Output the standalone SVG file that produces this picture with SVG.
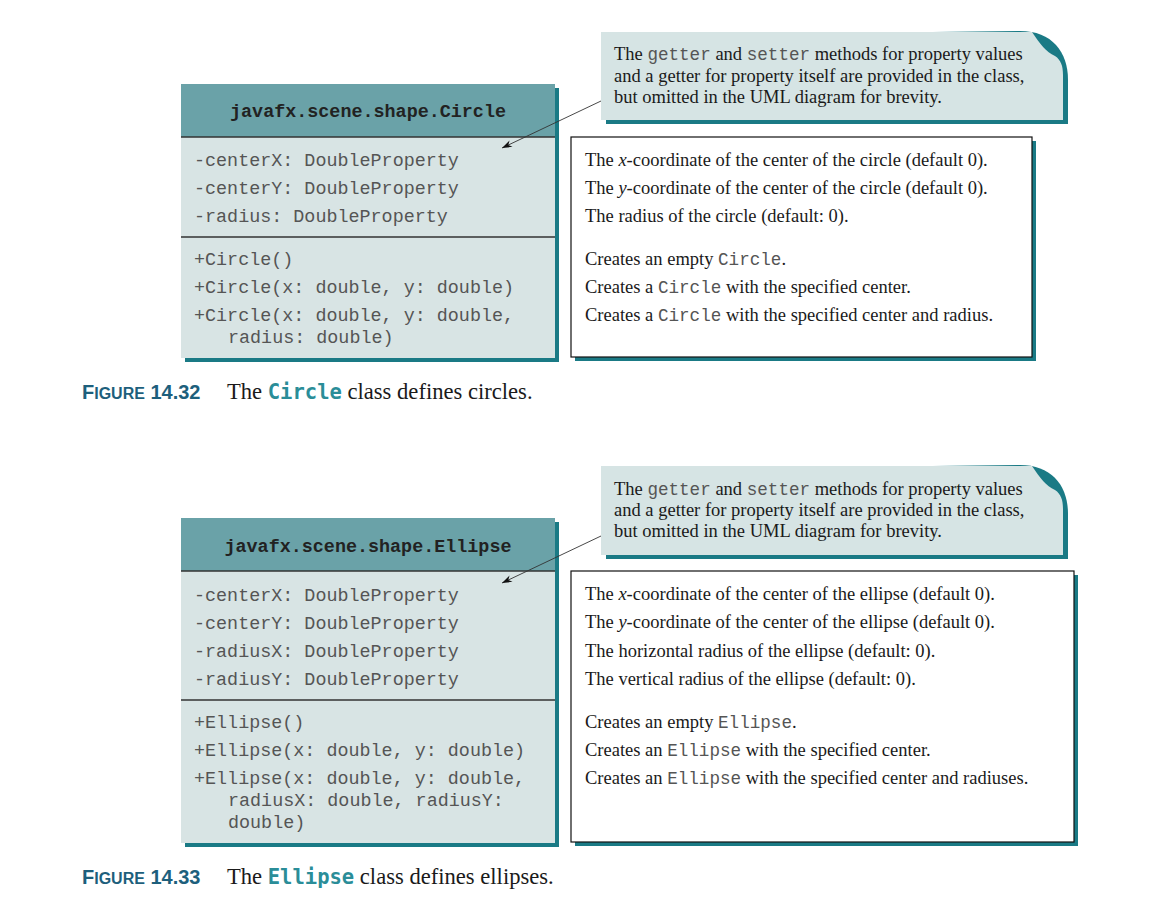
<svg xmlns="http://www.w3.org/2000/svg" width="1172" height="918" viewBox="0 0 1172 918">
<style>
.shadow{fill:#1a7a85}
.hdr{fill:#6aa2a8}
.body{fill:#d8e4e4}
.sep{stroke:#333;stroke-width:1.3}
.mono{font-family:"Liberation Mono","Courier New",monospace;font-size:18.4px;fill:#555}
.monob{font-family:"Liberation Mono","Courier New",monospace;font-size:18.4px;font-weight:bold;fill:#222}
.serif{font-family:"Liberation Serif","Times New Roman",serif;font-size:18.5px;fill:#1a1a1a}
.cm{font-family:"Liberation Mono","Courier New",monospace;font-size:17.6px;fill:#555}
.note{fill:#d6e4e4}
.desc{fill:#fff;stroke:#111;stroke-width:1.2}
.figlbl{font-family:"Liberation Sans",Arial,sans-serif;font-weight:bold;fill:#1d5f7c}
.cap{font-family:"Liberation Serif","Times New Roman",serif;font-size:22.6px;fill:#1a1a1a}
.capm{font-family:"DejaVu Sans Mono","Liberation Mono",monospace;font-size:20.5px;font-weight:bold;fill:#2a8d98}
.conn{stroke:#333;stroke-width:0.9;fill:none}
</style>
<defs>
<marker id="ah" viewBox="0 0 10 10" refX="10" refY="5" markerWidth="16" markerHeight="10" markerUnits="userSpaceOnUse" orient="auto">
<path d="M0,1.5 L10,5 L0,8.5 L3,5 Z" fill="#111"/>
</marker>
</defs>

<!-- Figure 14.32 -->
<g id="circle-class">
<rect x="185" y="88" width="374" height="274" class="shadow"/>
<rect x="181" y="84" width="374" height="274" class="body"/>
<rect x="181" y="84" width="374" height="53" class="hdr"/>
<line x1="181" y1="137" x2="555" y2="137" class="sep"/>
<line x1="181" y1="237" x2="555" y2="237" class="sep"/>
<text x="368" y="117" text-anchor="middle" class="monob">javafx.scene.shape.Circle</text>
<text x="194" y="166" class="mono">-centerX: DoubleProperty</text>
<text x="194" y="194" class="mono">-centerY: DoubleProperty</text>
<text x="194" y="222" class="mono">-radius: DoubleProperty</text>
<text x="194" y="265" class="mono">+Circle()</text>
<text x="194" y="293" class="mono">+Circle(x: double, y: double)</text>
<text x="194" y="321" class="mono">+Circle(x: double, y: double,</text>
<text x="228" y="343" class="mono">radius: double)</text>
</g>

<g id="circle-note">
<path d="M606 36 L1020 31 C1052 31 1068 52 1068 80 L1068 124 L606 124 Z" class="shadow"/>
<path d="M601 32 L1032 32 C1040 44 1046 52 1055 56 C1061 60 1063 66 1063 75 L1063 120 L601 120 Z" class="note"/>
<text x="614" y="60" class="serif">The <tspan class="cm">getter</tspan> and <tspan class="cm">setter</tspan> methods for property values</text>
<text x="614" y="82" class="serif">and a getter for property itself are provided in the class,</text>
<text x="614" y="103" class="serif">but omitted in the UML diagram for brevity.</text>
</g>

<g id="circle-desc">
<rect x="575" y="141" width="461" height="220" class="shadow"/>
<rect x="571" y="137" width="461" height="220" class="desc"/>
<text x="585" y="166" class="serif">The <tspan font-style="italic">x</tspan>-coordinate of the center of the circle (default 0).</text>
<text x="585" y="194" class="serif">The <tspan font-style="italic">y</tspan>-coordinate of the center of the circle (default 0).</text>
<text x="585" y="222" class="serif">The radius of the circle (default: 0).</text>
<text x="585" y="265" class="serif">Creates an empty <tspan class="cm">Circle</tspan>.</text>
<text x="585" y="293" class="serif">Creates a <tspan class="cm">Circle</tspan> with the specified center.</text>
<text x="585" y="321" class="serif">Creates a <tspan class="cm">Circle</tspan> with the specified center and radius.</text>
</g>

<g id="caption-1432">
<text x="82" y="399" class="figlbl"><tspan font-size="20">F</tspan><tspan font-size="16">IGURE</tspan><tspan font-size="20"> 14.32</tspan></text>
<text x="227" y="399" class="cap">The <tspan class="capm">Circle</tspan> class defines circles.</text>
</g>

<!-- Figure 14.33 -->
<g id="ellipse-class">
<rect x="185" y="522" width="374" height="325" class="shadow"/>
<rect x="181" y="518" width="374" height="325" class="body"/>
<rect x="181" y="518" width="374" height="53" class="hdr"/>
<line x1="181" y1="571" x2="555" y2="571" class="sep"/>
<line x1="181" y1="700" x2="555" y2="700" class="sep"/>
<text x="368" y="552" text-anchor="middle" class="monob">javafx.scene.shape.Ellipse</text>
<text x="194" y="601" class="mono">-centerX: DoubleProperty</text>
<text x="194" y="629" class="mono">-centerY: DoubleProperty</text>
<text x="194" y="657" class="mono">-radiusX: DoubleProperty</text>
<text x="194" y="685" class="mono">-radiusY: DoubleProperty</text>
<text x="194" y="728" class="mono">+Ellipse()</text>
<text x="194" y="756" class="mono">+Ellipse(x: double, y: double)</text>
<text x="194" y="784" class="mono">+Ellipse(x: double, y: double,</text>
<text x="228" y="806" class="mono">radiusX: double, radiusY:</text>
<text x="228" y="828" class="mono">double)</text>
</g>

<g id="ellipse-note">
<path d="M606 470 L1020 465 C1052 465 1068 486 1068 514 L1068 559 L606 559 Z" class="shadow"/>
<path d="M601 466 L1032 466 C1040 478 1046 486 1055 490 C1061 494 1063 500 1063 509 L1063 555 L601 555 Z" class="note"/>
<text x="614" y="495" class="serif">The <tspan class="cm">getter</tspan> and <tspan class="cm">setter</tspan> methods for property values</text>
<text x="614" y="516" class="serif">and a getter for property itself are provided in the class,</text>
<text x="614" y="537" class="serif">but omitted in the UML diagram for brevity.</text>
</g>

<g id="ellipse-desc">
<rect x="575" y="575" width="503" height="271" class="shadow"/>
<rect x="571" y="571" width="503" height="271" class="desc"/>
<text x="585" y="600" class="serif">The <tspan font-style="italic">x</tspan>-coordinate of the center of the ellipse (default 0).</text>
<text x="585" y="628" class="serif">The <tspan font-style="italic">y</tspan>-coordinate of the center of the ellipse (default 0).</text>
<text x="585" y="657" class="serif">The horizontal radius of the ellipse (default: 0).</text>
<text x="585" y="685" class="serif">The vertical radius of the ellipse (default: 0).</text>
<text x="585" y="728" class="serif">Creates an empty <tspan class="cm">Ellipse</tspan>.</text>
<text x="585" y="756" class="serif">Creates an <tspan class="cm">Ellipse</tspan> with the specified center.</text>
<text x="585" y="784" class="serif">Creates an <tspan class="cm">Ellipse</tspan> with the specified center and radiuses.</text>
</g>

<g id="caption-1433">
<text x="82" y="884" class="figlbl"><tspan font-size="20">F</tspan><tspan font-size="16">IGURE</tspan><tspan font-size="20"> 14.33</tspan></text>
<text x="227" y="884" class="cap">The <tspan class="capm">Ellipse</tspan> class defines ellipses.</text>
</g>

<g id="connectors">
<line x1="601" y1="101" x2="502" y2="148" class="conn" marker-end="url(#ah)"/>
<line x1="601" y1="536" x2="502" y2="583" class="conn" marker-end="url(#ah)"/>
</g>
</svg>
